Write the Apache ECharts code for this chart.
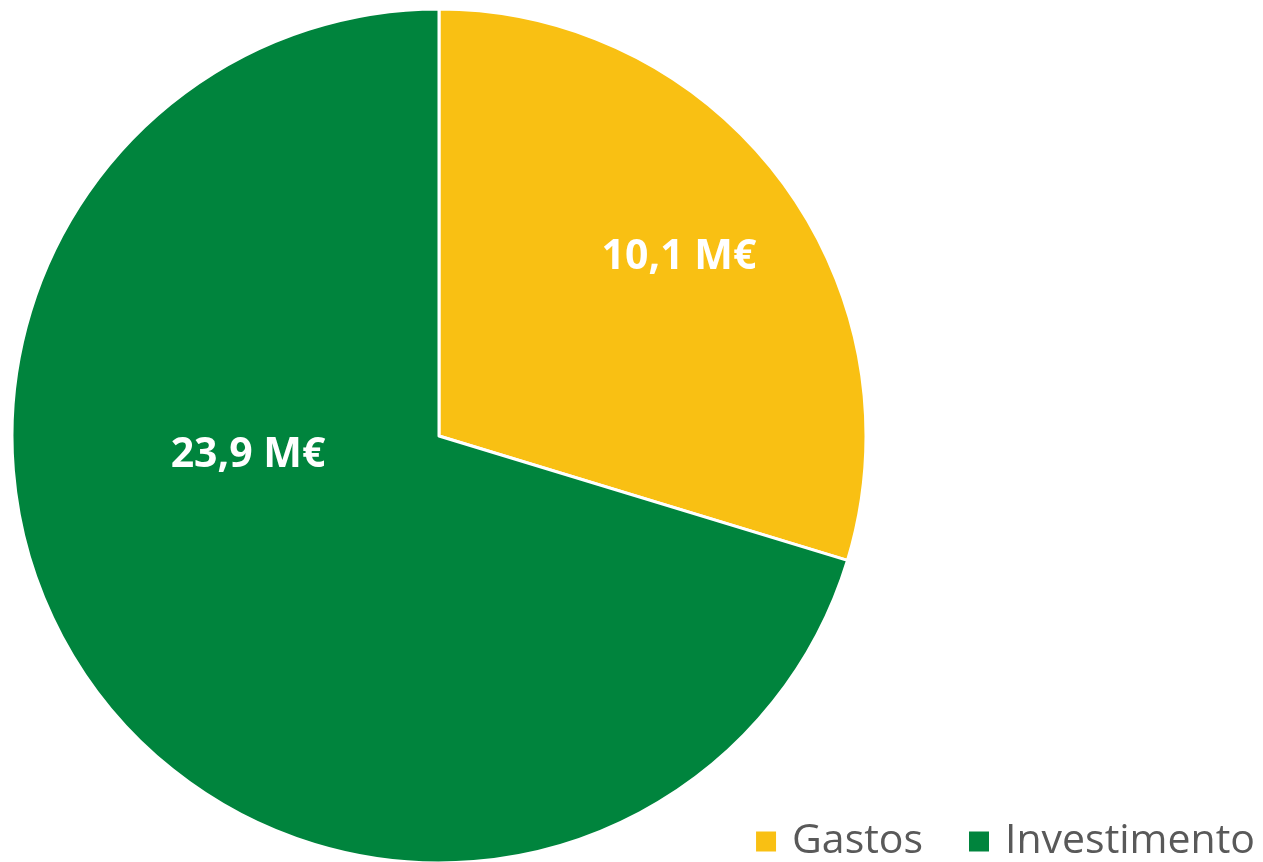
<!DOCTYPE html>
<html>
<head>
<meta charset="utf-8">
<script src="https://cdn.jsdelivr.net/npm/echarts@6/dist/echarts.min.js"></script>
<style>
  html, body { margin: 0; padding: 0; background: #fff; }
  #chart { width: 1263px; height: 862px; }
</style>
</head>
<body>
<div id="chart"></div>
<script>
  // valores em milhões de euros
  var categories = ['Gastos', 'Investimento']
  var values = [10.1, 23.9]
  var colors = ['#F9C013', '#00843D']
  // offset of each label from the default inside spot (px)
  var labelOffsets = [[66, -50], [-17, -110]]

  var chart = echarts.init(document.getElementById('chart'))
  chart.setOption({
    animation: false,
    legend: {
      data: categories,
      right: 8,
      bottom: 0,
      padding: 0,
      itemWidth: 22,
      itemHeight: 22,
      itemGap: 44,
      icon: 'rect',
      textStyle: {
        fontFamily: 'Open Sans',
        fontSize: 41,
        color: '#595959',
        padding: [0, 0, 0, 10]
      }
    },
    series: [
      {
        type: 'pie',
        center: [439, 436],
        radius: 427,
        startAngle: 90,
        clockwise: true,
        itemStyle: {
          borderColor: '#fff',
          borderWidth: 3
        },
        label: {
          show: true,
          position: 'inside',
          color: '#fff',
          fontFamily: 'Open Sans',
          fontWeight: 'bold',
          fontSize: 41,
          formatter: function(p) {
            return p.value.toFixed(1).replace('.', ',') + ' M€'
          }
        },
        labelLayout: function(params) {
          var off = labelOffsets[params.dataIndex]
          return { dx: off[0], dy: off[1] }
        },
        emphasis: { disabled: true },
        data: categories.map(function(name, i) {
          return { name: name, value: values[i], itemStyle: { color: colors[i] } }
        })
      }
    ]
  })
</script>
</body>
</html>
